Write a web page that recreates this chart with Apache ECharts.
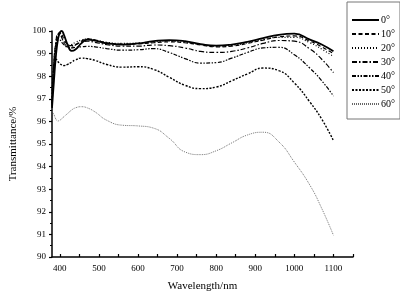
<!DOCTYPE html>
<html>
<head>
<meta charset="utf-8">
<script src="https://cdn.jsdelivr.net/npm/echarts@6/dist/echarts.min.js"></script>
<style>
  html, body { margin: 0; padding: 0; background: #fff; }
  #chart { width: 400px; height: 297px; }
</style>
</head>
<body>
<div id="chart"></div>
<script>
// wavelength grid (nm) shared by all curves
const wavelengths = [380, 385, 390, 395, 400, 405, 410, 420, 430, 440, 455, 470, 490, 520, 560,
  600, 640, 680, 720, 760, 800, 840, 880, 920, 960, 1000, 1040, 1070, 1100];

// transmittance (%) per incidence angle
const t0 = [96.6, 97.8, 98.9, 99.6, 99.92, 100.0, 99.85, 99.4, 99.12, 99.18, 99.45, 99.62, 99.58, 99.45, 99.4,
  99.45, 99.55, 99.6, 99.55, 99.42, 99.35, 99.4, 99.52, 99.68, 99.83, 99.88, 99.62, 99.4, 99.1];
const t10 = [96.7, 98.2, 99.3, 99.8, 99.95, 99.85, 99.65, 99.4, 99.35, 99.4, 99.55, 99.65, 99.6, 99.48, 99.42,
  99.43, 99.48, 99.52, 99.48, 99.38, 99.3, 99.33, 99.45, 99.6, 99.74, 99.78, 99.55, 99.3, 99.0];
const t20 = [96.8, 98.5, 99.5, 99.85, 99.9, 99.75, 99.55, 99.38, 99.4, 99.5, 99.6, 99.65, 99.6, 99.5, 99.45,
  99.47, 99.52, 99.55, 99.5, 99.4, 99.33, 99.36, 99.48, 99.62, 99.72, 99.72, 99.48, 99.2, 98.87];
const t30 = [96.8, 98.6, 99.5, 99.85, 99.85, 99.7, 99.5, 99.3, 99.28, 99.38, 99.5, 99.55, 99.5, 99.4, 99.33,
  99.33, 99.38, 99.35, 99.25, 99.1, 99.05, 99.1, 99.25, 99.45, 99.58, 99.55, 99.2, 98.75, 98.16];
const t40 = [96.8, 98.7, 99.4, 99.6, 99.6, 99.5, 99.4, 99.28, 99.25, 99.28, 99.3, 99.32, 99.3, 99.22, 99.15,
  99.17, 99.22, 99.05, 98.78, 98.58, 98.6, 98.8, 99.05, 99.25, 99.28, 98.95, 98.35, 97.8, 97.12];
const t50 = [96.9, 98.6, 98.75, 98.65, 98.55, 98.5, 98.47, 98.52, 98.62, 98.72, 98.8, 98.78, 98.7, 98.52, 98.4,
  98.42, 98.3, 97.95, 97.6, 97.45, 97.52, 97.8, 98.1, 98.36, 98.25, 97.7, 96.85, 96.1, 95.15];
const t60 = [96.45, 96.3, 96.1, 96.02, 96.05, 96.12, 96.2, 96.35, 96.5, 96.6, 96.65, 96.6, 96.42, 96.05, 95.83,
  95.8, 95.7, 95.25, 94.65, 94.53, 94.7, 95.05, 95.4, 95.52, 95.1, 94.2, 93.17, 92.15, 90.96];

const angles = ['0°', '10°', '20°', '30°', '40°', '50°', '60°'];
const xLabels = [400, 500, 600, 700, 800, 900, 1000, 1100];
const xTicks = [400, 450, 500, 550, 600, 650, 700, 750, 800, 850, 900, 950, 1000, 1050, 1100, 1150];

const serif = 'Liberation Serif';
const curves = [t0, t10, t20, t30, t40, t50, t60];
const styles = [
  { width: 1.8, type: 'solid', color: '#000' },
  { width: 1.2, type: [4, 2.5], color: '#000' },
  { width: 1.2, type: [1, 2], color: '#000' },
  { width: 1.2, type: [5, 2, 1.5, 2], color: '#000' },
  { width: 1.2, type: [4, 1.5, 1.5, 1.5, 1.5, 1.5], color: '#000' },
  { width: 1.4, type: [2, 1.5], color: '#000' },
  { width: 0.9, type: [1, 1], color: '#666' }
];

const chart = echarts.init(document.getElementById('chart'), null, { renderer: 'canvas' });
chart.setOption({
  animation: false,
  backgroundColor: '#fff',
  textStyle: { fontFamily: serif },
  grid: { left: 45, right: 47, top: 31, bottom: 38 },
  legend: {
    orient: 'vertical',
    left: 347,
    top: 2,
    padding: [13, 5, 10, 4],
    itemWidth: 27,
    itemHeight: 8,
    itemGap: 4,
    borderColor: '#777',
    borderWidth: 1,
    itemStyle: { opacity: 0 },
    textStyle: { fontFamily: serif, fontSize: 10, color: '#000', padding: [0, 0, 0, -3] },
    data: angles
  },
  xAxis: {
    type: 'value',
    min: 380,
    max: 1150,
    name: 'Wavelength/nm',
    nameLocation: 'middle',
    nameGap: 24,
    nameTextStyle: { fontFamily: serif, fontSize: 11, color: '#000' },
    splitLine: { show: false },
    axisLine: { lineStyle: { color: '#000', width: 1.5 } },
    axisTick: { inside: true, length: 3, customValues: xTicks, lineStyle: { color: '#000', width: 1.2 } },
    axisLabel: {
      customValues: xLabels, fontFamily: serif, fontSize: 9, color: '#000', margin: 7,
      formatter: (v) => String(v)
    }
  },
  yAxis: {
    type: 'value',
    min: 90,
    max: 100,
    interval: 1,
    name: 'Transmittance/%',
    nameLocation: 'middle',
    nameGap: 33,
    nameTextStyle: { fontFamily: serif, fontSize: 11, color: '#000' },
    splitLine: { show: false },
    axisLine: { show: true, lineStyle: { color: '#000', width: 1.5 } },
    axisTick: { length: 3, lineStyle: { color: '#000', width: 1.2 } },
    minorTick: { show: true, splitNumber: 2, length: 2, lineStyle: { color: '#000', width: 1 } },
    axisLabel: { fontFamily: serif, fontSize: 9, color: '#000', margin: 6 }
  },
  series: curves.map((vals, i) => ({
    name: angles[i],
    type: 'line',
    data: wavelengths.map((w, j) => [w, vals[j]]),
    symbol: 'none',
    smooth: 0.5,
    clip: true,
    lineStyle: styles[i],
    itemStyle: { color: styles[i].color },
    z: 10 - i
  }))
});
</script>
</body>
</html>
